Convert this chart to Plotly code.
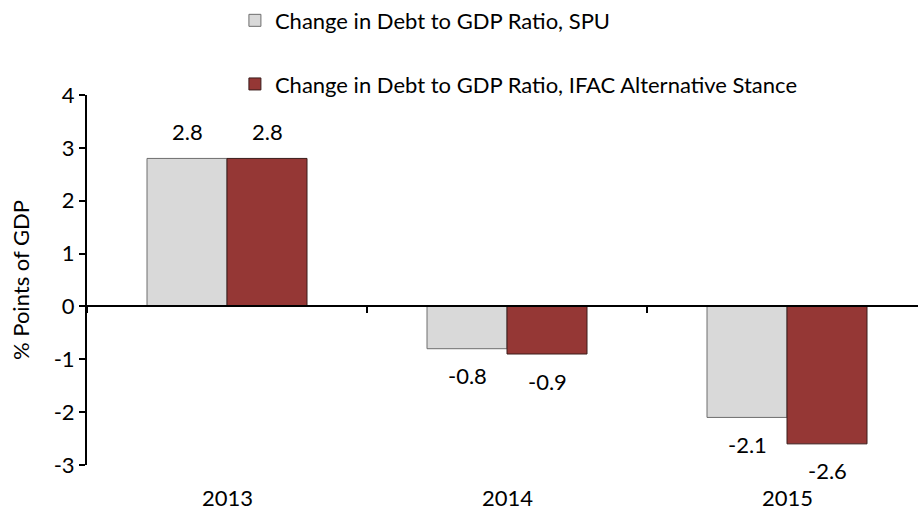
import plotly.graph_objects as go

years = ["2013", "2014", "2015"]
spu = [2.8, -0.8, -2.1]
ifac = [2.8, -0.9, -2.6]
series_names = ["Change in Debt to GDP Ratio, SPU",
                "Change in Debt to GDP Ratio, IFAC Alternative Stance"]
y_ticks = [-3, -2, -1, 0, 1, 2, 3, 4]
y_tick_text = ["-3", "-2", "-1", "0", "1", "2", "3", "4"]

FONT = "Lato"
FS = 22
BARGAP = 0.4286
bar_w = (1 - BARGAP) / 2
xpos = list(range(len(years)))

fig = go.Figure()
fig.add_trace(go.Bar(x=xpos, y=spu, name=series_names[0], legendgroup="a",
                     marker=dict(color="#D9D9D9", line=dict(color="#6E6E6E", width=1))))
fig.add_trace(go.Bar(x=xpos, y=ifac, name=series_names[1], legendgroup="b",
                     marker=dict(color="#953735", line=dict(color="#3A1C1B", width=1))))

ann = []
for i, (a, b) in enumerate(zip(spu, ifac)):
    for v, dx in ((a, -bar_w / 2), (b, bar_w / 2)):
        ann.append(dict(x=i + dx, y=v, xref="x", yref="y", text=f"{v:.1f}",
                        showarrow=False, yanchor="middle",
                        yshift=27 if v >= 0 else -27,
                        font=dict(family=FONT, size=FS, color="black")))
    ann.append(dict(x=i, y=0, xref="x", yref="paper", text=years[i], showarrow=False,
                    yanchor="middle", yshift=-32, borderpad=0,
                    font=dict(family=FONT, size=FS, color="black")))

xmax = -0.5 + (918 - 87) / 280
fig.update_layout(
    width=918, height=511,
    margin=dict(l=87, r=0, t=95, b=46, autoexpand=False),
    paper_bgcolor="white", plot_bgcolor="white",
    barmode="group", bargap=BARGAP, bargroupgap=0,
    font=dict(family=FONT, size=FS, color="black"),
    showlegend=True,
    legend=dict(x=0.178, xanchor="left", y=1.258, yanchor="top",
                tracegroupgap=32, font=dict(family=FONT, size=FS, color="black"),
                bgcolor="rgba(0,0,0,0)"),
    annotations=ann,
    xaxis=dict(range=[-0.5, xmax], anchor="free", position=3 / 7,
               showline=True, linecolor="black", linewidth=2,
               tickvals=[-0.5, 0.5, 1.5, 2.5], ticks="outside", ticklen=6,
               tickcolor="black", tickwidth=2, showticklabels=False,
               showgrid=False, zeroline=False, automargin=False),
    yaxis=dict(range=[-3, 4], tickvals=y_ticks, ticktext=y_tick_text,
               showline=True, linecolor="black",
               linewidth=2, ticks="outside", ticklen=6, tickcolor="black", tickwidth=2,
               showgrid=False, zeroline=False, automargin=False,
               tickfont=dict(family=FONT, size=FS),
               title=dict(text="% Points of GDP", font=dict(family=FONT, size=FS), standoff=18)),
)

fig.write_html("out.html", config={"displayModeBar": False},
               post_script="document.body.style.margin='0';")
